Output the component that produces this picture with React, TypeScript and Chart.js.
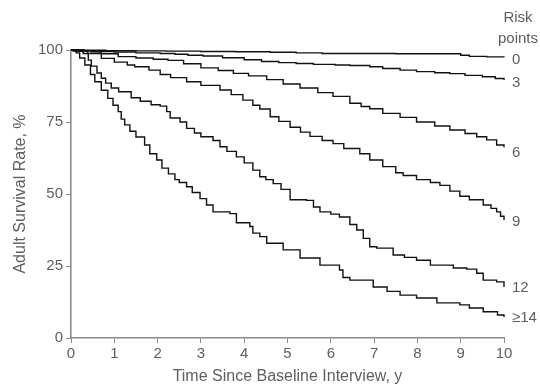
import React, { useEffect, useRef } from "react";
import { Chart, registerables } from "chart.js";

Chart.register(...registerables);

// Risk point groups (labels at right end of curves)
const groupLabels = ["0", "3", "6", "9", "12", "≥14"];

// Kaplan-Meier step data (time in years, survival %)
const t0 = [0, 0.3, 0.8, 1.5, 2.2, 3.0, 3.8, 4.6, 5.2, 5.8, 7.5, 9.0, 9.2, 9.6, 10.0];
const s0 = [100, 99.9, 99.8, 99.7, 99.6, 99.5, 99.4, 99.2, 99.0, 98.8, 98.7, 98.2, 97.8, 97.6, 97.5];

const t3 = [0, 0.3, 0.6, 1.0, 1.5, 2.06, 2.4, 2.7, 3.05, 3.5, 4.0, 4.4, 4.8, 5.2, 5.6, 6.1, 6.44, 6.9, 7.2, 7.6, 7.98, 8.4, 8.75, 9.1, 9.5, 9.8, 10];
const s3 = [100, 99.8, 99.5, 99.3, 99.0, 98.8, 98.5, 98.2, 97.9, 97.3, 96.6, 96.0, 95.6, 95.3, 95.0, 94.8, 94.6, 94.2, 93.6, 93.0, 92.5, 92.1, 91.8, 91.2, 90.7, 90.1, 89.6];

const t6 = [0, 0.2, 0.46, 0.7, 1.09, 1.5, 1.9, 2.24, 2.6, 3.0, 3.4, 3.75, 4.1, 4.52, 4.9, 5.29, 5.7, 6.05, 6.44, 6.7, 6.9, 7.2, 7.6, 7.98, 8.4, 8.75, 9.1, 9.37, 9.6, 9.83, 10];
const s6 = [100, 99.7, 99.4, 98.7, 97.7, 97.2, 96.8, 96.4, 95.2, 93.8, 92.9, 91.9, 91.0, 89.7, 88.2, 86.8, 85.2, 83.9, 81.5, 80.4, 79.6, 78.0, 76.6, 75.0, 73.6, 72.2, 71.0, 69.9, 68.8, 67.0, 66.2];

const t9 = [0, 0.15, 0.39, 0.7, 1.0, 1.3, 1.47, 1.8, 2.06, 2.3, 2.67, 3.0, 3.44, 3.7, 3.97, 4.2, 4.36, 4.6, 4.8, 5.06, 5.3, 5.52, 5.8, 6.05, 6.3, 6.67, 6.9, 7.2, 7.5, 7.67, 7.98, 8.3, 8.52, 8.75, 8.98, 9.2, 9.52, 9.7, 9.83, 9.92, 10];
const s9 = [100, 99.6, 98.8, 97.1, 95.8, 94.8, 94.2, 93.0, 91.5, 90.4, 89.0, 87.7, 86.1, 84.5, 82.6, 80.8, 79.5, 76.8, 75.2, 73.2, 71.5, 70.0, 68.6, 67.5, 65.8, 64.0, 61.8, 59.5, 57.4, 56.4, 55.0, 54.0, 53.0, 51.0, 49.2, 48.0, 46.2, 45.0, 43.8, 42.3, 41.0];

const t12 = [0, 0.1, 0.28, 0.4, 0.47, 0.6, 0.7, 0.8, 0.93, 1.1, 1.39, 1.6, 1.85, 2.06, 2.21, 2.29, 2.52, 2.67, 2.85, 3.0, 3.28, 3.44, 3.6, 3.82, 4.0, 4.2, 4.36, 4.5, 4.67, 4.85, 5.06, 5.44, 5.6, 5.75, 6.0, 6.2, 6.44, 6.6, 6.75, 6.9, 7.06, 7.44, 7.7, 7.98, 8.3, 8.83, 9.14, 9.37, 9.52, 9.83, 10];
const s12 = [100, 99.6, 98.8, 96.5, 94.4, 92.0, 90.2, 88.5, 86.8, 85.5, 83.4, 82.2, 81.0, 80.5, 78.6, 76.4, 75.0, 72.8, 71.2, 69.9, 68.6, 66.4, 64.8, 62.9, 60.8, 58.3, 56.0, 55.0, 53.6, 51.6, 48.0, 47.8, 45.5, 43.8, 43.0, 42.0, 39.4, 37.5, 34.6, 31.7, 31.2, 28.8, 28.0, 27.0, 25.3, 24.3, 23.9, 22.5, 20.1, 19.5, 17.7];

const t14 = [0, 0.05, 0.12, 0.2, 0.32, 0.45, 0.55, 0.7, 0.85, 0.97, 1.09, 1.16, 1.24, 1.36, 1.5, 1.7, 1.82, 1.98, 2.1, 2.25, 2.4, 2.5, 2.67, 2.8, 2.98, 3.13, 3.28, 3.67, 3.82, 4.13, 4.2, 4.36, 4.52, 4.9, 5.29, 5.75, 6.2, 6.28, 6.44, 6.98, 7.3, 7.6, 7.98, 8.45, 8.98, 9.2, 9.52, 9.85, 10];
const s14 = [100, 99.6, 99.0, 97.2, 94.8, 91.5, 89.0, 86.0, 83.2, 80.8, 78.6, 76.0, 74.0, 71.8, 69.8, 67.0, 64.0, 61.8, 59.0, 57.0, 55.0, 54.0, 52.5, 50.5, 48.4, 46.2, 43.8, 43.2, 40.0, 38.7, 36.4, 35.2, 32.9, 30.6, 27.8, 25.3, 23.6, 21.0, 20.1, 17.7, 16.2, 14.9, 13.9, 12.2, 11.5, 10.4, 9.1, 8.0, 7.3];

const seriesTimes = [t0, t3, t6, t9, t12, t14];
const seriesValues = [s0, s3, s6, s9, s12, s14];

const xTicks = [0, 1, 2, 3, 4, 5, 6, 7, 8, 9, 10];
const yTicks = [0, 25, 50, 75, 100];

const xTitle = "Time Since Baseline Interview, y";
const yTitle = "Adult Survival Rate, %";
const legendTitle = ["Risk", "points"];

const FONT = "'Liberation Sans', Arial, sans-serif";
const TEXT = "#5e5e5e";
const AXIS = "#8a8a8a";

const labelOffsets = [3, 3, 6, 2, 1, 1];

const annotations = {
  id: "kmAnnotations",
  afterDraw(chart: any) {
    const ctx = chart.ctx;
    const xs = chart.scales.x;
    const ys = chart.scales.y;
    const area = chart.chartArea;
    ctx.save();
    ctx.fillStyle = TEXT;
    ctx.font = `15px ${FONT}`;
    ctx.textBaseline = "middle";
    // end labels
    ctx.textAlign = "left";
    seriesValues.forEach((vals, i) => {
      const end = vals[vals.length - 1];
      const y = ys.getPixelForValue(end) + labelOffsets[i];
      ctx.fillText(groupLabels[i], xs.getPixelForValue(10) + 8, y);
    });
    ctx.textAlign = "center";
    ctx.fillText(legendTitle[0], 518, 18);
    ctx.fillText(legendTitle[1], 518, 39);
    // titles
    ctx.font = `16px ${FONT}`;
    ctx.fillText(xTitle, (area.left + area.right) / 2, 377);
    ctx.translate(21, (area.top + area.bottom) / 2);
    ctx.rotate(-Math.PI / 2);
    ctx.fillText(yTitle, 0, 0);
    ctx.restore();
  },
};

export default function App() {
  const ref = useRef<HTMLCanvasElement | null>(null);
  useEffect(() => {
    if (!ref.current) return;
    const datasets = seriesTimes.map((ts, i) => ({
      label: groupLabels[i],
      data: ts.map((t, j) => ({ x: t, y: seriesValues[i][j] })),
      borderColor: "#111111",
      borderWidth: 1.4,
      pointRadius: 0,
      stepped: "before" as const,
      fill: false,
      clip: 3,
    }));
    const chart = new Chart(ref.current, {
      type: "line",
      data: { datasets },
      plugins: [annotations],
      options: {
        animation: false,
        responsive: false,
        events: [],
        layout: { padding: { left: 0, right: 36, top: 50, bottom: 0 } },
        plugins: { legend: { display: false }, tooltip: { enabled: false } },
        scales: {
          x: {
            type: "linear",
            min: 0,
            max: 10,
            afterBuildTicks: (s: any) => {
              s.ticks = xTicks.map((v) => ({ value: v }));
            },
            afterFit: (s: any) => {
              s.height = 49;
            },
            ticks: { color: TEXT, font: { family: FONT, size: 15 }, padding: 2, maxRotation: 0, autoSkip: false },
            grid: { drawOnChartArea: false, drawTicks: true, tickLength: 5, color: AXIS, lineWidth: 1 },
            border: { color: AXIS, width: 1.6 },
          },
          y: {
            type: "linear",
            min: 0,
            max: 100,
            afterBuildTicks: (s: any) => {
              s.ticks = yTicks.map((v) => ({ value: v }));
            },
            afterFit: (s: any) => {
              s.width = 71;
            },
            ticks: { color: TEXT, font: { family: FONT, size: 15 }, padding: 3 },
            grid: { drawOnChartArea: false, drawTicks: true, tickLength: 5, color: AXIS, lineWidth: 1 },
            border: { color: AXIS, width: 1.6 },
          },
        },
      },
    });
    return () => chart.destroy();
  }, []);
  return (
    <div style={{ position: "fixed", left: 0, top: 0, width: 540, height: 387, background: "#fff" }}>
      <canvas ref={ref} width={540} height={387} />
    </div>
  );
}
